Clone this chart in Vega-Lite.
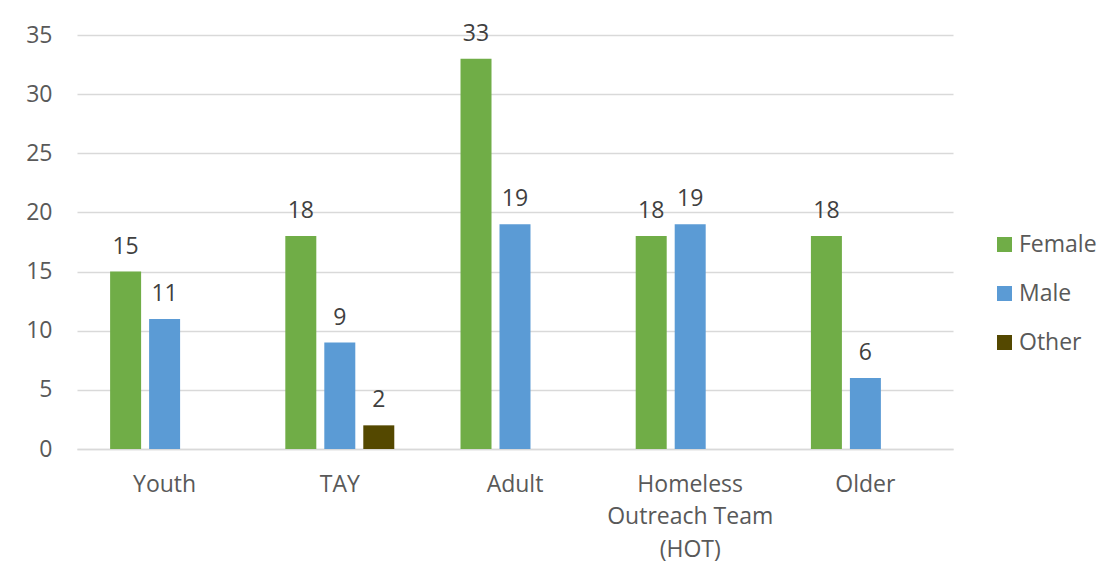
{
  "$schema": "https://vega.github.io/schema/vega-lite/v6.json",
  "width": 876,
  "height": 414,
  "autosize": {"type": "none"},
  "padding": {"left": 77, "top": 35, "right": 161, "bottom": 129},
  "background": "white",
  "config": {"font": "Open Sans", "view": {"stroke": null}},
  "data": {
    "values": [
      {"group": "Youth", "gender": "Female", "count": 15},
      {"group": "Youth", "gender": "Male", "count": 11},
      {"group": "TAY", "gender": "Female", "count": 18},
      {"group": "TAY", "gender": "Male", "count": 9},
      {"group": "TAY", "gender": "Other", "count": 2},
      {"group": "Adult", "gender": "Female", "count": 33},
      {"group": "Adult", "gender": "Male", "count": 19},
      {"group": "Homeless Outreach Team (HOT)", "gender": "Female", "count": 18},
      {"group": "Homeless Outreach Team (HOT)", "gender": "Male", "count": 19},
      {"group": "Older", "gender": "Female", "count": 18},
      {"group": "Older", "gender": "Male", "count": 6}
    ]
  },
  "encoding": {
    "x": {
      "field": "group",
      "type": "nominal",
      "sort": ["Youth", "TAY", "Adult", "Homeless Outreach Team (HOT)", "Older"],
      "scale": {"paddingInner": 0.378, "paddingOuter": 0.189},
      "axis": {
        "title": null,
        "labelAngle": 0,
        "labelFontSize": 23,
        "labelColor": "#595959",
        "labelPadding": 24,
        "labelLineHeight": 32.5,
        "labelBaseline": "top",
        "ticks": false,
        "domainColor": "#D9D9D9",
        "domainWidth": 1.5,
        "labelExpr": "datum.value == 'Homeless Outreach Team (HOT)' ? ['Homeless', 'Outreach Team', '(HOT)'] : datum.value"
      }
    },
    "xOffset": {
      "field": "gender",
      "type": "nominal",
      "sort": ["Female", "Male", "Other"],
      "scale": {"paddingInner": 0.205, "paddingOuter": 0}
    },
    "y": {
      "field": "count",
      "type": "quantitative",
      "scale": {"domain": [0, 35], "nice": false},
      "axis": {
        "title": null,
        "values": [0, 5, 10, 15, 20, 25, 30, 35],
        "labelFontSize": 23,
        "labelColor": "#595959",
        "labelPadding": 25,
        "ticks": false,
        "domain": false,
        "gridColor": "#D9D9D9",
        "gridWidth": 1.5
      }
    }
  },
  "layer": [
    {
      "mark": {"type": "bar"},
      "encoding": {
        "color": {
          "field": "gender",
          "type": "nominal",
          "scale": {"domain": ["Female", "Male", "Other"], "range": ["#70AD47", "#5B9BD5", "#544800"]},
          "legend": {
            "title": null,
            "orient": "none",
            "legendX": 916,
            "legendY": 198,
            "symbolType": "square",
            "symbolSize": 225,
            "symbolStrokeWidth": 0,
            "labelFontSize": 23,
            "labelColor": "#595959",
            "labelOffset": 3,
            "rowPadding": 25
          }
        }
      }
    },
    {
      "mark": {"type": "text", "baseline": "alphabetic", "dy": -18, "fontSize": 23, "color": "#404040"},
      "encoding": {"text": {"field": "count", "type": "quantitative"}}
    }
  ]
}
